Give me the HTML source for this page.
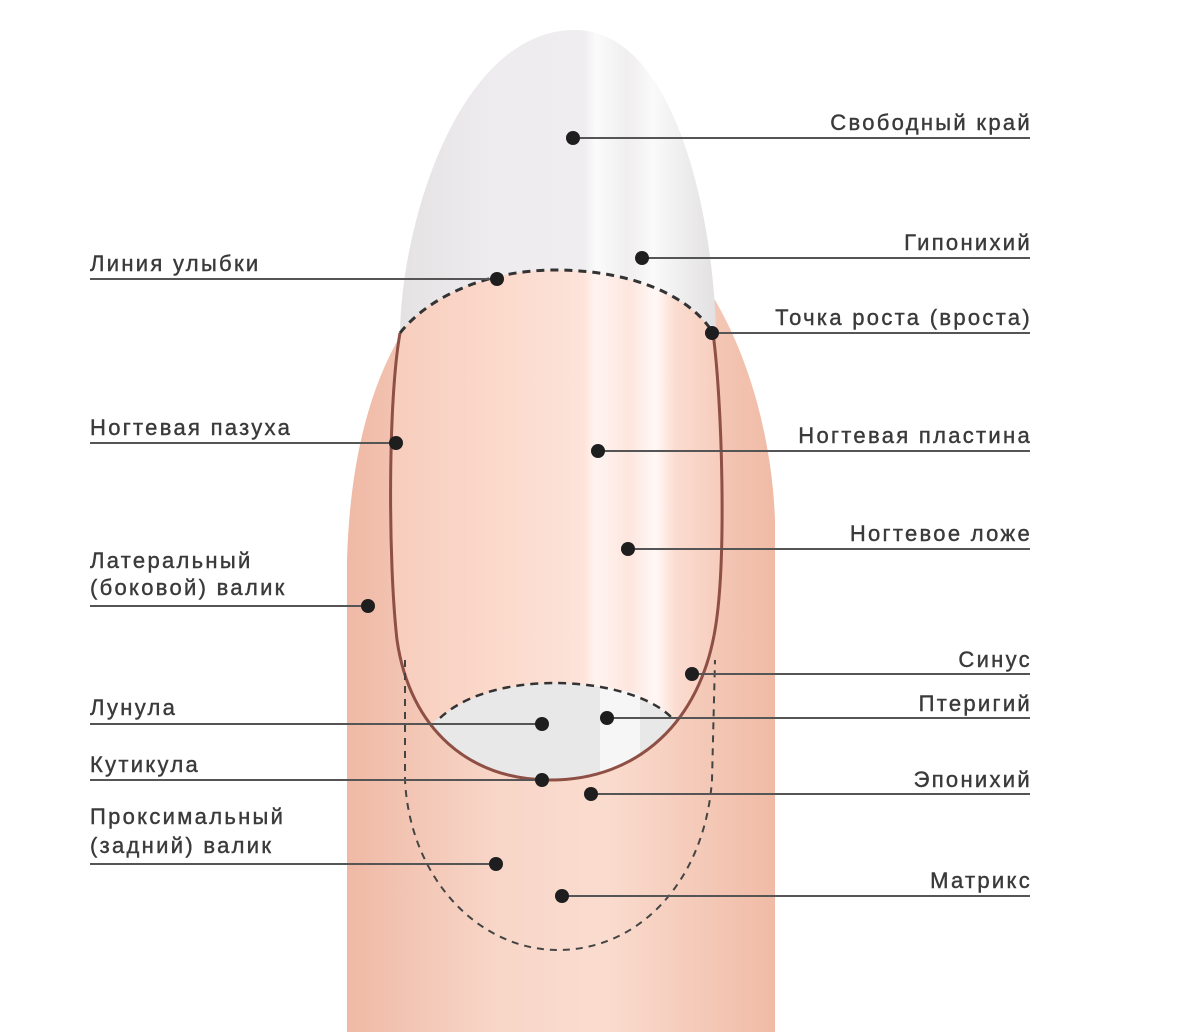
<!DOCTYPE html>
<html><head><meta charset="utf-8"><style>
html,body{margin:0;padding:0;background:#fff;}
svg{display:block;}
text{font-family:"Liberation Sans",sans-serif;font-size:22px;letter-spacing:2.3px;fill:#3a3a3a;stroke:#3a3a3a;stroke-width:0.4px;}
</style></head><body>
<svg width="1200" height="1035" viewBox="0 0 1200 1035" xmlns="http://www.w3.org/2000/svg">
<defs>
<linearGradient id="fg" x1="0" x2="1" y1="0" y2="0">
<stop offset="0" stop-color="#efb9a5"/><stop offset="0.35" stop-color="#f8d6c8"/><stop offset="0.6" stop-color="#fadccf"/><stop offset="1" stop-color="#f0bba6"/>
</linearGradient>
<linearGradient id="ng" x1="0" x2="1" y1="0" y2="0">
<stop offset="0" stop-color="#f7cdbd"/><stop offset="0.3" stop-color="#fbd8ca"/><stop offset="0.58" stop-color="#fde3da"/><stop offset="0.62" stop-color="#fff4f0"/><stop offset="0.72" stop-color="#fde6de"/><stop offset="0.8" stop-color="#fff8f6"/><stop offset="0.86" stop-color="#fbdcd0"/><stop offset="1" stop-color="#f6ccbc"/>
</linearGradient>
<linearGradient id="eg" x1="0" x2="1" y1="0" y2="0">
<stop offset="0" stop-color="#e4e2e3"/><stop offset="0.3" stop-color="#eeecee"/><stop offset="0.58" stop-color="#efedef"/><stop offset="0.62" stop-color="#fbfbfb"/><stop offset="0.72" stop-color="#f0eeef"/><stop offset="0.8" stop-color="#fafafa"/><stop offset="1" stop-color="#e2e0e1"/>
</linearGradient>
<clipPath id="nc">
<path d="M400 333 C430 295 490 270 555 270 C630 270 690 295 713 333 C722 400 727 560 715 630 C700 720 640 780 550 780 C470 780 410 730 397 640 C388 560 388 400 400 333 Z"/>
</clipPath>
</defs>
<path d="M347 1032 L347 560 C350 460 370 380 410 320 L715 300 C750 360 772 440 775 520 L775 1032 Z" fill="url(#fg)"/>
<path d="M400 332 C402 220 460 30 575 30 C670 30 712 200 716 330 Z" fill="url(#eg)"/>
<path d="M400 333 C430 295 490 270 555 270 C630 270 690 295 713 333 C722 400 727 560 715 630 C700 720 640 780 550 780 C470 780 410 730 397 640 C388 560 388 400 400 333 Z" fill="url(#ng)"/>
<g clip-path="url(#nc)">
<path d="M430 725 C470 690 520 683 555 683 C600 683 650 695 680 725 L680 790 L430 790 Z" fill="#e9e8e8"/>
<path d="M600 686 L640 694 L640 790 L600 790 Z" fill="#f6f6f6"/>
</g>
<path d="M400 333 C388 400 388 560 397 640 C410 730 470 780 550 780 C640 780 700 720 715 630 C727 560 722 400 713 333" fill="none" stroke="#8e4f45" stroke-width="3"/>
<path d="M400 333 C430 295 490 270 555 270 C630 270 690 295 713 333" fill="none" stroke="#333" stroke-width="3" stroke-dasharray="8 6"/>
<path d="M440 718 C470 690 520 683 555 683 C600 683 650 695 672 718" fill="none" stroke="#333" stroke-width="2.5" stroke-dasharray="8 6"/>
<path d="M405 660 L405 780 C410 880 480 950 558 950 C640 950 705 880 712 780 L715 660" fill="none" stroke="#444" stroke-width="2" stroke-dasharray="7 6"/>
<g stroke="#555" stroke-width="2">
<line x1="573" y1="138" x2="1030" y2="138"/>
<line x1="642" y1="258" x2="1030" y2="258"/>
<line x1="712" y1="333" x2="1030" y2="333"/>
<line x1="598" y1="451" x2="1030" y2="451"/>
<line x1="628" y1="549" x2="1030" y2="549"/>
<line x1="692" y1="674" x2="1030" y2="674"/>
<line x1="607" y1="718" x2="1030" y2="718"/>
<line x1="591" y1="794" x2="1030" y2="794"/>
<line x1="562" y1="896" x2="1030" y2="896"/>
<line x1="90" y1="279" x2="497" y2="279"/>
<line x1="90" y1="443" x2="396" y2="443"/>
<line x1="90" y1="606" x2="368" y2="606"/>
<line x1="90" y1="724" x2="542" y2="724"/>
<line x1="90" y1="780" x2="542" y2="780"/>
<line x1="90" y1="864" x2="496" y2="864"/>
</g>
<g fill="#1e1e1e">
<circle cx="573" cy="138" r="7"/><circle cx="642" cy="258" r="7"/><circle cx="712" cy="333" r="7"/>
<circle cx="598" cy="451" r="7"/><circle cx="628" cy="549" r="7"/><circle cx="692" cy="674" r="7"/>
<circle cx="607" cy="718" r="7"/><circle cx="591" cy="794" r="7"/><circle cx="562" cy="896" r="7"/>
<circle cx="497" cy="279" r="7"/><circle cx="396" cy="443" r="7"/><circle cx="368" cy="606" r="7"/>
<circle cx="542" cy="724" r="7"/><circle cx="542" cy="780" r="7"/><circle cx="496" cy="864" r="7"/>
</g>
<g text-anchor="end">
<text x="1032" y="130">Свободный край</text>
<text x="1032" y="250">Гипонихий</text>
<text x="1032" y="325">Точка роста (вроста)</text>
<text x="1032" y="443">Ногтевая пластина</text>
<text x="1032" y="541">Ногтевое ложе</text>
<text x="1032" y="667">Синус</text>
<text x="1032" y="711">Птеригий</text>
<text x="1032" y="787">Эпонихий</text>
<text x="1032" y="888">Матрикс</text>
</g>
<g>
<text x="90" y="271">Линия улыбки</text>
<text x="90" y="435">Ногтевая пазуха</text>
<text x="90" y="568">Латеральный</text>
<text x="90" y="595">(боковой) валик</text>
<text x="90" y="715">Лунула</text>
<text x="90" y="772">Кутикула</text>
<text x="90" y="824">Проксимальный</text>
<text x="90" y="853">(задний) валик</text>
</g>
</svg>
</body></html>
